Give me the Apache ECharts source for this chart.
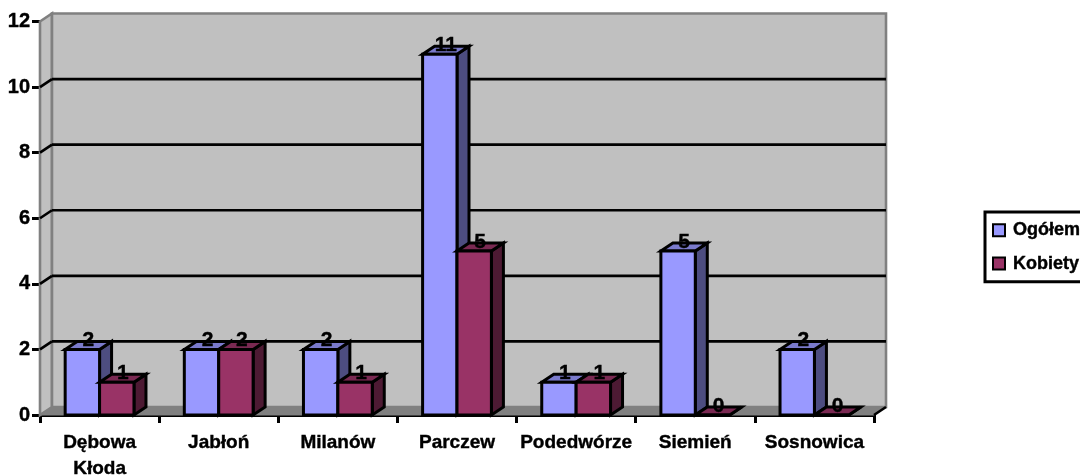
<!DOCTYPE html>
<html><head><meta charset="utf-8">
<style>html,body{margin:0;padding:0;background:#fff;overflow:hidden}#c{width:1080px;height:476px}</style>
<script src="https://cdn.jsdelivr.net/npm/echarts@6/dist/echarts.min.js"></script>
</head><body><div id="c"></div>
<script>
const categories = ['Dębowa\nKłoda','Jabłoń','Milanów','Parczew','Podedwórze','Siemień','Sosnowica'];
const ogolem = [2,2,2,11,1,5,2];
const kobiety = [1,2,1,5,1,0,0];
const yTicks = [0,2,4,6,8,10,12];

const DX = 12, DY = -8, BARW = 34.4, LW = 3;
const blackLine = {stroke:'#000', lineWidth:2.6, lineJoin:'miter'};

function poly(points, fill, stroke, lw){
  return {type:'polygon', shape:{points}, style:{fill, stroke:stroke||'#000', lineWidth:lw==null?LW:lw, lineJoin:'miter'}};
}
function wallItem(params, api){
  const cs = params.coordSys;
  const L = cs.x, R = cs.x + cs.width, T = cs.y, B = cs.y + cs.height;
  const ch = [];
  ch.push(poly([[L,T],[L+DX,T+DY],[L+DX,B+DY],[L,B]],'#C0C0C0','#808080',2.6));
  ch.push(poly([[L,B],[L+DX,B+DY],[R+DX,B+DY],[R,B]],'#808080','#808080',1));
  ch.push(poly([[L+DX,T+DY],[R+DX,T+DY],[R+DX,B+DY],[L+DX,B+DY]],'#C0C0C0','#808080',2.6));
  yTicks.forEach(t=>{
    const y = api.coord([0,t])[1];
    if (t>0 && t<12) ch.push({type:'line',shape:{x1:L+DX,y1:y+DY,x2:R+DX,y2:y+DY},style:blackLine});
    if (t>0 && t<12) ch.push({type:'line',shape:{x1:L,y1:y,x2:L+DX,y2:y+DY},style:blackLine});
  });
  ch.push({type:'line',shape:{x1:R,y1:B,x2:R+DX,y2:B+DY},style:blackLine});
  return {type:'group',children:ch};
}
function barRenderer(offset, front, top, side){
  return function(params, api){
    const i = api.value(0), v = api.value(1);
    const c = api.coord([i, v]), b = api.coord([i, 0]);
    const x0 = c[0] + offset*BARW, x1 = x0 + BARW, yT = c[1], yB = b[1];
    const ch = [];
    ch.push(poly([[x1,yT],[x1+DX,yT+DY],[x1+DX,yB+DY],[x1,yB]],side));
    ch.push(poly([[x0,yT],[x0+DX,yT+DY],[x1+DX,yT+DY],[x1,yT]],top));
    ch.push({type:'rect',shape:{x:x0,y:yT,width:BARW,height:yB-yT},style:{fill:front,stroke:'#000',lineWidth:LW}});
    return {type:'group',children:ch};
  };
}
function labelRenderer(offset){
  return function(params, api){
    const c = api.coord([api.value(0), api.value(1)]);
    return {type:'text',style:{x:c[0]+offset*BARW+BARW/2+6,y:c[1]-9,text:String(api.value(1)),fill:'#000',stroke:'#000',lineWidth:0.4,fontSize:21,fontWeight:'bold',fontFamily:'Liberation Sans',align:'center',verticalAlign:'middle'}};
  };
}
const heavy = {textBorderColor:'#000',textBorderWidth:0.4};
const chart = echarts.init(document.getElementById('c'),null,{renderer:'canvas'});
chart.setOption({
  animation:false,
  backgroundColor:'#fff',
  grid:{left:40,top:21.5,width:834,height:393.5,containLabel:false,outerBoundsMode:'none'},
  legend:{
    left:985,top:212,orient:'vertical',
    data:['Ogółem','Kobiety'],
    borderColor:'#000',borderWidth:3,backgroundColor:'#fff',
    padding:[9,8,9,7],itemGap:15,itemWidth:12,itemHeight:12,
    textStyle:Object.assign({fontFamily:'Liberation Sans',fontWeight:'bold',fontSize:18,color:'#000',padding:[0,0,0,3]},heavy),
    icon:'rect'
  },
  xAxis:{type:'category',data:categories,
    axisLine:{lineStyle:{color:'#000',width:3}},
    axisTick:{show:true,length:8,lineStyle:{color:'#000',width:3},alignWithLabel:false},
    axisLabel:Object.assign({interval:0,margin:15,color:'#000',fontFamily:'Liberation Sans',fontWeight:'bold',fontSize:19,lineHeight:26},heavy),
    splitLine:{show:false}},
  yAxis:{type:'value',min:0,max:12,interval:2,
    axisLine:{show:true,lineStyle:{color:'#000',width:3}},
    axisTick:{show:true,length:8,lineStyle:{color:'#000',width:3}},
    axisLabel:Object.assign({margin:10,color:'#000',fontFamily:'Liberation Sans',fontWeight:'bold',fontSize:20},heavy),
    splitLine:{show:false}},
  series:[
    {type:'custom',name:'wall',coordinateSystem:'cartesian2d',renderItem:wallItem,data:[[0,0]],silent:true,z:1,clip:false},
    {type:'custom',name:'Ogółem',coordinateSystem:'cartesian2d',renderItem:barRenderer(-1,'#9999FF','#7A7ACC','#4D4D80'),
      encode:{x:0,y:1},data:ogolem.map((v,i)=>[i,v]),itemStyle:{color:'#9999FF',borderColor:'#000',borderWidth:2.5},z:3,clip:false},
    {type:'custom',name:'Kobiety',coordinateSystem:'cartesian2d',renderItem:barRenderer(0,'#993366','#7A2952','#4D1A33'),
      encode:{x:0,y:1},data:kobiety.map((v,i)=>[i,v]),itemStyle:{color:'#993366',borderColor:'#000',borderWidth:2.5},z:4,clip:false},
    {type:'custom',name:'lblO',coordinateSystem:'cartesian2d',renderItem:labelRenderer(-1),encode:{x:0,y:1},data:ogolem.map((v,i)=>[i,v]),z:6,clip:false,silent:true},
    {type:'custom',name:'lblK',coordinateSystem:'cartesian2d',renderItem:labelRenderer(0),encode:{x:0,y:1},data:kobiety.map((v,i)=>[i,v]),z:6,clip:false,silent:true}
  ]
});
</script></body></html>
